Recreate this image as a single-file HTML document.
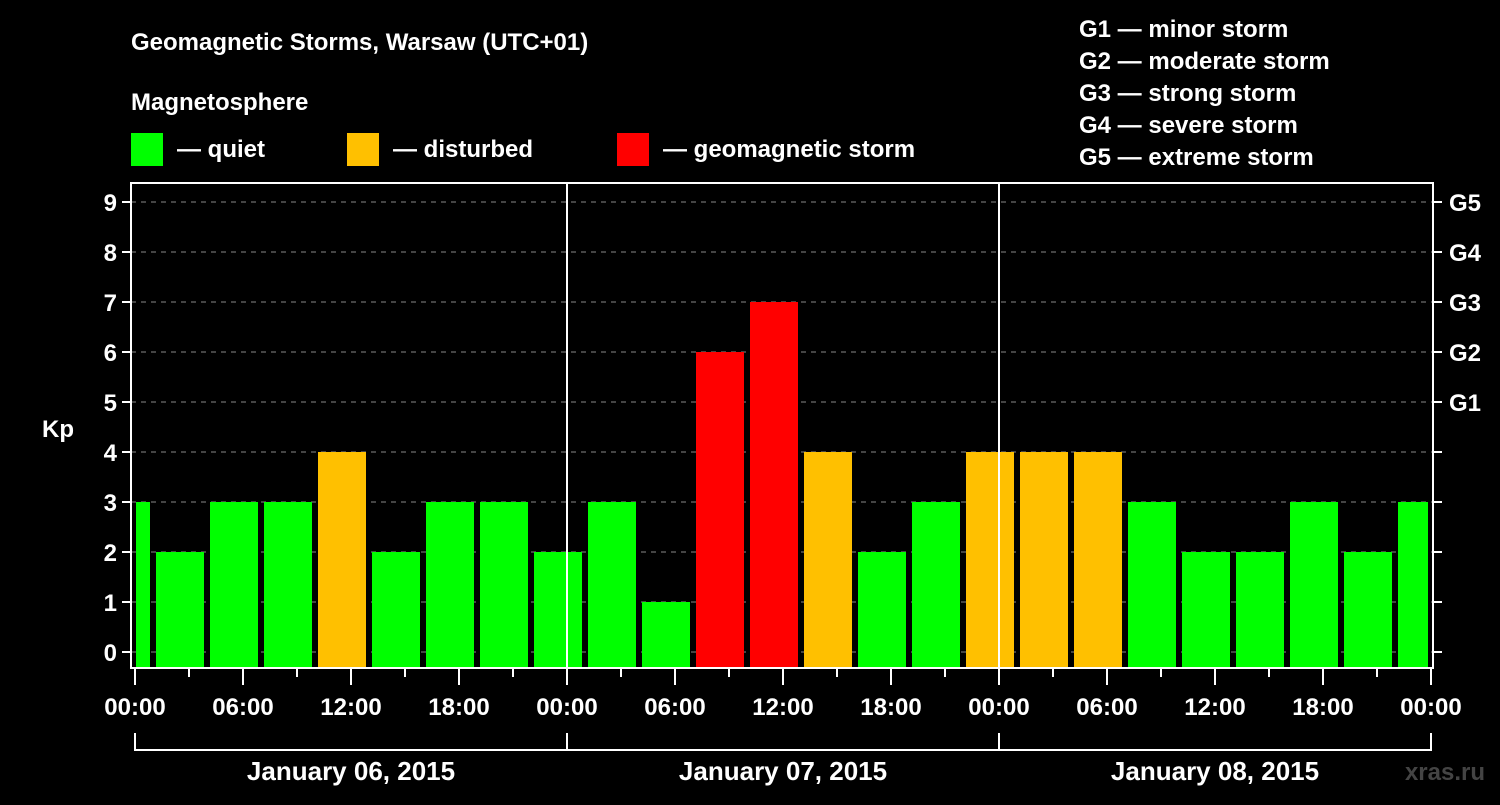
<!DOCTYPE html>
<html><head><meta charset="utf-8"><style>
body{margin:0;background:#000;width:1500px;height:800px;overflow:hidden}
svg text{font-family:"Liberation Sans",Arial,sans-serif;font-weight:bold;fill:#fff}
</style></head><body>
<svg id="c" width="1500" height="800">
<text x="131" y="50" font-size="24">Geomagnetic Storms, Warsaw (UTC+01)</text>
<text x="131" y="110" font-size="24">Magnetosphere</text>
<rect x="131" y="133" width="32" height="33" fill="#00ff00"/>
<text x="177" y="157" font-size="24">— quiet</text>
<rect x="347" y="133" width="32" height="33" fill="#ffc000"/>
<text x="393" y="157" font-size="24">— disturbed</text>
<rect x="617" y="133" width="32" height="33" fill="#ff0000"/>
<text x="663" y="157" font-size="24">— geomagnetic storm</text>
<g font-size="24">
<text x="1079" y="37">G1 — minor storm</text>
<text x="1079" y="69">G2 — moderate storm</text>
<text x="1079" y="101">G3 — strong storm</text>
<text x="1079" y="133">G4 — severe storm</text>
<text x="1079" y="165">G5 — extreme storm</text>
</g>
<text x="42" y="437" font-size="24">Kp</text>
<g id="grid"></g><g id="bars"></g><g id="axes"></g>
<text x="1485" y="780" font-size="24" text-anchor="end" fill="#444" style="fill:#444">xras.ru</text>
</svg>
<script>
const kpValues=[3,2,3,3,4,2,3,3,2,3,1,6,7,4,2,3,4,4,4,3,2,2,3,2,3];
const yTicks=[0,1,2,3,4,5,6,7,8,9];
const gLabels=["G1","G2","G3","G4","G5"];
const gLevels=[5,6,7,8,9];
const xLabels=["00:00","06:00","12:00","18:00","00:00","06:00","12:00","18:00","00:00","06:00","12:00","18:00","00:00"];
const dayLabels=["January 06, 2015","January 07, 2015","January 08, 2015"];
const NS="http://www.w3.org/2000/svg";
const X0=135,PXH=18,Y0=652,PXU=50,L=131,R=1433,T=183,B=668;
const xs=h=>X0+h*PXH, ys=v=>Y0-v*PXU;
function mk(tag,attrs,parent){const e=document.createElementNS(NS,tag);for(const k in attrs)e.setAttribute(k,attrs[k]);parent.appendChild(e);return e;}
const grid=document.getElementById('grid'),bars=document.getElementById('bars'),axes=document.getElementById('axes');
yTicks.forEach(v=>{
 const ln=mk('line',{x1:L,x2:R,y1:ys(v),y2:ys(v),stroke:'#888','stroke-dasharray':'5,5','stroke-width':1},grid);
 
 
 const t=mk('line',{x1:L-9,x2:L,y1:ys(v),y2:ys(v),stroke:'#fff','stroke-width':2},axes);
 
 
 const rt=mk('line',{x1:R,x2:R+9,y1:ys(v),y2:ys(v),stroke:'#fff','stroke-width':2},axes);
 
 
 const tx=mk('text',{x:L-14,y:ys(v)+9,'font-size':24,'text-anchor':'end'},axes);
 tx.textContent=v;
 
 
});
gLabels.forEach((g,i)=>{
 const tx=mk('text',{x:R+16,y:ys(gLevels[i])+9,'font-size':24},axes);
 tx.textContent=g;
 
 
});
kpValues.forEach((v,i)=>{
 const c=(i*3-0.5);
 let x1=xs(c)-24,x2=xs(c)+24;
 x1=Math.max(x1,136);x2=Math.min(x2,1428);
 const col=v>=5?'#ff0000':(v==4?'#ffc000':'#00ff00');
 const r=mk('rect',{x:x1,y:ys(v),width:x2-x1,height:667-ys(v),fill:col},bars);
 
 
});
[1,2].forEach(d=>{
 const l=mk('line',{x1:xs(d*24),x2:xs(d*24),y1:T,y2:B,stroke:'#fff','stroke-width':2},axes);
 
 
});
const fr=mk('path',{d:`M${L} ${T}H${R}V${B}H${L}Z`,fill:'none',stroke:'#fff','stroke-width':2},axes);


for(let h=0;h<=72;h+=3){
 const major=h%6==0;
 const t=mk('line',{x1:xs(h),x2:xs(h),y1:B,y2:B+(major?17:9),stroke:'#fff','stroke-width':2},axes);
 
 
}
xLabels.forEach((s,i)=>{
 const tx=mk('text',{x:xs(i*6),y:715,'font-size':24,'text-anchor':'middle'},axes);
 tx.textContent=s;
 
 
});
const br=mk('path',{d:`M${xs(0)} 733V750H${xs(72)}V733M${xs(24)} 733V750M${xs(48)} 733V750`,fill:'none',stroke:'#fff','stroke-width':2},axes);


dayLabels.forEach((s,i)=>{
 const tx=mk('text',{x:xs(i*24+12),y:780,'font-size':26,'text-anchor':'middle'},axes);
 tx.textContent=s;
 
 
});
</script>
</body></html>
